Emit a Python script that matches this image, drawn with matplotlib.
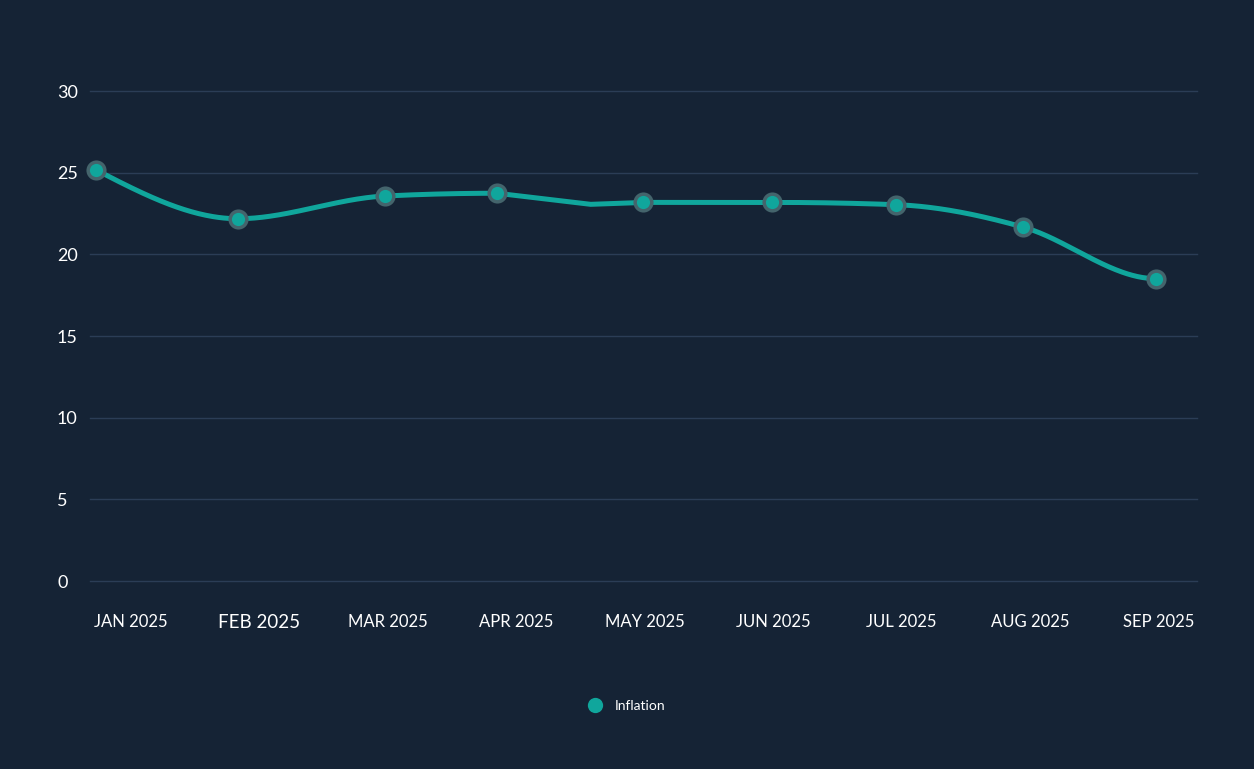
import numpy as np
import matplotlib
matplotlib.use("Agg")
import matplotlib.pyplot as plt
from matplotlib.transforms import blended_transform_factory

# month position on the axis (0 = JAN label), value in %
month_pos = [-0.27, 0.833, 1.978, 2.850, 3.575, 3.988, 4.992, 5.958, 6.947, 7.983]
inflation = [25.16, 22.18, 23.57, 23.74, 23.06, 23.18, 23.18, 23.04, 21.67, 18.51]
show_marker = [True, True, True, True, False, True, True, True, True, True]

month_labels = ["JAN 2025", "FEB 2025", "MAR 2025", "APR 2025", "MAY 2025",
                "JUN 2025", "JUL 2025", "AUG 2025", "SEP 2025"]
y_ticks = [0, 5, 10, 15, 20, 25, 30]

BG = "#152335"
TEAL = "#10a69c"
GRID = "#2b3d56"
HALO = "#44646c"

plt.rcParams["font.family"] = ["Lato", "DejaVu Sans"]


def monotone_tangents(x, y):
    # same rule as d3's curveMonotoneX
    x = np.asarray(x, float)
    y = np.asarray(y, float)
    h = np.diff(x)
    s = np.diff(y) / h
    m = np.zeros_like(y)
    for i in range(1, len(y) - 1):
        p = (s[i - 1] * h[i] + s[i] * h[i - 1]) / (h[i - 1] + h[i])
        m[i] = (np.sign(s[i - 1]) + np.sign(s[i])) * min(abs(s[i - 1]), abs(s[i]), 0.5 * abs(p))
    m[0] = (3 * s[0] - m[1]) / 2
    m[-1] = 0.0  # line flattens into the last point
    return m


def smooth_path(x, y, straight):
    x = np.asarray(x, float)
    y = np.asarray(y, float)
    m = monotone_tangents(x, y)
    xs, ys = [], []
    for i in range(len(x) - 1):
        t = np.linspace(0, 1, 80)
        h = x[i + 1] - x[i]
        xx = x[i] + t * h
        if i in straight or i + 1 in straight:
            yy = y[i] + t * (y[i + 1] - y[i])
        else:
            h00 = 2 * t**3 - 3 * t**2 + 1
            h10 = t**3 - 2 * t**2 + t
            h01 = -2 * t**3 + 3 * t**2
            h11 = t**3 - t**2
            yy = h00 * y[i] + h10 * h * m[i] + h01 * y[i + 1] + h11 * h * m[i + 1]
        xs.append(xx)
        ys.append(yy)
    return np.concatenate(xs), np.concatenate(ys)


fig = plt.figure(figsize=(12.54, 7.69), dpi=100, facecolor=BG)
ax = fig.add_axes([90 / 1254, 188 / 769, 1107 / 1254, 490 / 769])
ax.set_facecolor(BG)

ax.set_xlim(-0.319, 8.302)
ax.set_ylim(0, 30)

for v in y_ticks:
    ax.axhline(v, color=GRID, lw=1, zorder=1, clip_on=False)

unmarked = [i for i, s in enumerate(show_marker) if not s]
sx, sy = smooth_path(month_pos, inflation, unmarked)
ax.plot(sx, sy, color=TEAL, lw=3.6, solid_capstyle="round", zorder=3, clip_on=False)

mx = [p for p, s in zip(month_pos, show_marker) if s]
my = [v for v, s in zip(inflation, show_marker) if s]
ax.plot(mx, my, "o", ms=14.5, color=HALO, mec="none", zorder=4, clip_on=False)
ax.plot(mx, my, "o", ms=9.5, color=TEAL, mec="none", zorder=5, clip_on=False)

for s in ax.spines.values():
    s.set_visible(False)
ax.set_yticks([])
ax.set_xticks(range(len(month_labels)))
ax.set_xticklabels(month_labels, color="white", fontsize=12)
ax.get_xticklabels()[1].set_fontsize(13.5)
ax.tick_params(axis="x", length=0, pad=24)

trans = blended_transform_factory(fig.transFigure, ax.transData)
for v in y_ticks:
    ax.text(57 / 1254, v, str(v), transform=trans, ha="left", va="center_baseline",
            color="white", fontsize=13)

# legend
fig.lines.append(plt.Line2D([595 / 1254], [1 - 705 / 769], marker="o", ms=11,
                            color=TEAL, mec="none", transform=fig.transFigure))
fig.text(615 / 1254, 1 - 705 / 769, "Inflation", color="white", fontsize=10,
         ha="left", va="center_baseline")

fig.savefig("out.png", dpi=100, facecolor=BG)
